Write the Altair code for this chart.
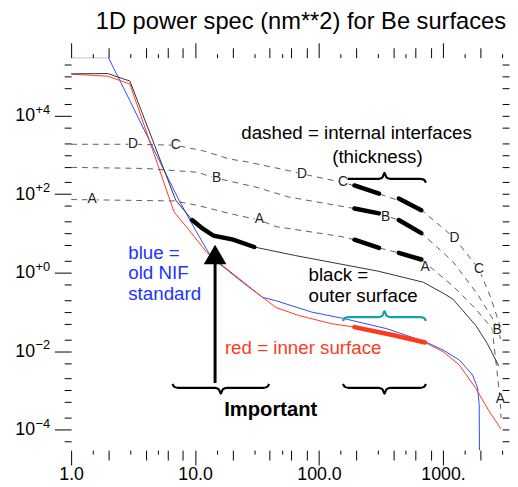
import math
import altair as alt
import pandas as pd

FONT = "Liberation Sans"
BLUE = "#3347ff"
RED = "#ff3a1c"
TEAL = "#12a3a3"
GREY = "#4a4a4a"

TITLE = "1D power spec (nm**2) for Be surfaces"

# ---------------- curves (x = spatial frequency, y = power) ----------------
blue_x = [1.0, 2.0, 3.0, 5.0, 7.42, 10.05, 13.6, 17.9, 24.3, 35.0, 44.8, 87.5, 161, 355, 716, 1000, 1350, 1730, 1900, 1960, 1975, 1980]
blue_y = [3.0e5, 3.0e5, 2.3e4, 855, 70, 12.3, 2.38, 1.21, 0.56, 0.235, 0.193, 0.0986, 0.067, 0.037, 0.0174, 0.0107, 0.006, 0.0025, 0.00116, 4.4e-4, 1.0e-5, 1.0e-6]

red_x = [1.0, 1.97, 2.98, 6.76, 8.9, 12.5, 16.9, 35.0, 44.8, 68.5, 126, 193, 401, 578, 716, 1000, 1350, 1830, 2350, 2940]
red_y = [1.14e5, 1.01e5, 6.4e4, 35.5, 12.3, 3.2, 1.47, 0.235, 0.13, 0.081, 0.050, 0.041, 0.0254, 0.021, 0.0166, 0.0097, 0.0045, 0.00116, 3.0e-4, 1.04e-4]

black_x = [1.0, 1.97, 2.98, 6.98, 9.47, 11.4, 14.1, 20.3, 30.0, 64.5, 296, 694, 1000, 1200, 1837, 2275, 2818]
black_y = [1.16e5, 1.18e5, 7.6e4, 70, 21.8, 13.6, 8.7, 6.9, 4.5, 2.72, 1.1, 0.57, 0.301, 0.213, 0.0454, 0.0158, 0.0042]

# dashed internal interfaces (C and D coincide)
dc_x = [1.0, 3.16, 6.98, 11.7, 19.0, 25.9, 56.8, 72.9, 156, 240, 537, 673, 1239, 1955, 2404, 2940]
dc_y = [1862, 1862, 1760, 1260, 782, 668, 397, 328, 198, 132, 55, 39, 7.6, 1.21, 0.252, 0.037]
b_x = [1.0, 4.0, 10.4, 14.9, 31.0, 56.8, 193, 305, 440, 673, 1200, 1896, 2818, 2940]
b_y = [480, 450, 360, 254, 151, 84.5, 43, 32.3, 21.9, 10.1, 1.92, 0.284, 0.0375, 0.0158]
a_x = [1.0, 6.78, 10.4, 19.0, 33.0, 44.8, 151, 193, 305, 440, 669, 1200, 1837, 2494, 2890, 2940]
a_y = [72.8, 67, 52, 32, 21.9, 14.9, 8.3, 6.9, 4.26, 3.19, 2.16, 0.46, 0.119, 0.0375, 6.1e-4, 2.0e-4]

# bold highlighted pieces
thick_name = ["dc1", "dc1", "dc2", "dc2", "b1", "b1", "b2", "b2", "a1", "a1", "a2", "a2"]
thick_x = [193, 305, 440, 669, 193, 305, 440, 669, 193, 305, 440, 669]
thick_y = [166, 103, 77, 39, 43, 32.3, 21.9, 10.1, 6.9, 4.26, 3.19, 2.16]
bthick_x = [9.47, 11.4, 14.1, 20.3, 30.0]
bthick_y = [21.8, 13.6, 8.7, 6.9, 4.5]
rthick_x = [193, 401, 716]
rthick_y = [0.041, 0.0254, 0.0166]

# curve letter labels
let_t = ["A", "A", "A", "A", "B", "B", "B", "C", "C", "C", "D", "D", "D"]
let_x = [1.476, 33, 716, 2900, 14.9, 344, 2734, 6.98, 156, 1955, 3.16, 72.9, 1239]
let_y = [72.7, 22.6, 1.42, 5.9e-4, 254, 25.3, 0.034, 1760, 201, 1.21, 1862, 328, 7.6]

# braces: (x1, x2, y, cusp up?, colour)
brace_x1 = [156, 156, 156, 6.57]
brace_x2 = [729, 729, 729, 39.6]
brace_y = [245, 0.0738, 1.16e-3, 1.16e-3]
brace_up = [True, True, False, False]
brace_col = ["black", TEAL, "black", "black"]

# arrow
arrow_x = [14.5]
arrow_y1 = [1.55e-3]
arrow_y2 = [1.92]
arrow_head_y = [2.89]

# axis ticks
x_major = [1, 10, 100, 1000]
x_major_lab = ["1.0", "10.0", "100.0", "1000."]
x_mid = [2, 4, 6, 8, 20, 40, 60, 80, 200, 400, 600, 800, 2000]
x_minor = [1.5, 3, 5, 15, 30, 50, 150, 300, 500, 1500, 3000]
y_major = [0.0001, 0.01, 1.0, 100.0, 10000.0]
y_sup = ["−4", "−2", "+0", "+2", "+4"]
y_vals = [float(f"{m}e{e}") for e in range(-5, 6) for m in (1, 2, 5)]
y_vals = [v for v in y_vals if 3e-5 <= v <= 3e5]
x_vals = sorted(x_major + x_mid + x_minor)

XS = alt.Scale(type="log", domain=[1, 3000])
YS = alt.Scale(type="log", domain=[3e-5, 3e5])

# pixel geometry of the plot (used only to place labels just outside it)
PX_X = 437 / math.log10(3000)
PX_Y = 398 / 10.0

x_lab_expr = "".join(f"datum.value == {v} ? '{t}' : " for v, t in zip(x_major, x_major_lab)) + "''"
y_lab_expr = f"indexof({y_major}, datum.value) >= 0 ? '10' : ''"
x_tick_size = {"condition": [{"test": f"indexof({x_major}, datum.value) >= 0", "value": 15},
                             {"test": f"indexof({x_mid}, datum.value) >= 0", "value": 10}], "value": 4}
y_tick_size = {"condition": {"test": f"indexof({y_major}, datum.value) >= 0", "value": 17}, "value": 7}

common = dict(domain=False, grid=False, title=None, tickColor="black", tickWidth=1,
              labelFont=FONT, labelColor="black", labelOverlap=False)
ax_bottom = alt.Axis(orient="bottom", values=x_vals, labelExpr=x_lab_expr, tickSize=x_tick_size,
                     labelFontSize=18, labelPadding=1, labelFlush=False, **common)
ax_left = alt.Axis(orient="left", values=y_vals, labelExpr=y_lab_expr, tickSize=y_tick_size,
                   labelFontSize=18, labelPadding=20, labelBaseline="middle", **common)
ax_top = alt.Axis(orient="top", values=x_vals, labels=False, tickSize=x_tick_size, **common)
ax_right = alt.Axis(orient="right", values=y_vals, labels=False, tickSize=7, **common)


def xy(chart, xaxis=None, yaxis=None, **extra):
    return chart.encode(x=alt.X("x:Q", scale=XS, axis=xaxis),
                        y=alt.Y("y:Q", scale=YS, axis=yaxis), **extra)


def frame(xs, ys, name="s"):
    return pd.DataFrame({"x": xs, "y": ys, "name": name})


def brace_frame(x1, x2, y, up, k):
    lx1, lx2, ly = math.log10(x1), math.log10(x2), math.log10(y)
    w = (lx2 - lx1) * PX_X
    m = w / 2
    s = 1 if up else -1
    shape = [(0, 4), (2, 1), (6, 0), (m - 6, 0), (m - 2, -1.5), (m, -6),
             (m + 2, -1.5), (m + 6, 0), (w - 6, 0), (w - 2, 1), (w, 4)]
    rows = []
    for i, (px, py) in enumerate(shape):
        rows.append({"x": 10 ** (lx1 + px / PX_X), "y": 10 ** (ly - s * py / PX_Y), "name": f"b{k}", "o": i})
    return pd.DataFrame(rows)


layers = []
# curves
layers.append(xy(alt.Chart(frame(blue_x, blue_y)).mark_line(color=BLUE, strokeWidth=1, clip=True), ax_bottom, ax_left))
layers.append(xy(alt.Chart(frame(red_x, red_y)).mark_line(color=RED, strokeWidth=1, clip=True), ax_top, ax_right))
dashed = pd.concat([frame(dc_x, dc_y, "DC"), frame(b_x, b_y, "B"), frame(a_x, a_y, "A")])
layers.append(xy(alt.Chart(dashed).mark_line(color=GREY, strokeWidth=0.9, strokeDash=[6, 5], clip=True),
                 detail="name:N"))
layers.append(xy(alt.Chart(frame(black_x, black_y)).mark_line(color="#333333", strokeWidth=1, clip=True)))
layers.append(xy(alt.Chart(pd.DataFrame({"x": thick_x, "y": thick_y, "name": thick_name}))
                 .mark_line(color="black", strokeWidth=4.5, strokeCap="round"), detail="name:N"))
layers.append(xy(alt.Chart(frame(bthick_x, bthick_y)).mark_line(color="black", strokeWidth=4.5, strokeCap="round")))
layers.append(xy(alt.Chart(frame(rthick_x, rthick_y)).mark_line(color=RED, strokeWidth=4.5, strokeCap="round")))

# braces
for k in range(len(brace_x1)):
    bf = brace_frame(brace_x1[k], brace_x2[k], brace_y[k], brace_up[k], k)
    layers.append(xy(alt.Chart(bf).mark_line(color=brace_col[k], strokeWidth=2.2, interpolate="monotone"),
                     order="o:Q"))

# arrow
layers.append(alt.Chart(pd.DataFrame({"x": arrow_x, "y": arrow_y1, "y2": arrow_y2}))
              .mark_rule(color="black", strokeWidth=3)
              .encode(x=alt.X("x:Q", scale=XS, axis=None), y=alt.Y("y:Q", scale=YS, axis=None), y2="y2:Q"))
layers.append(xy(alt.Chart(frame(arrow_x, arrow_head_y)).mark_point(shape="triangle-up", size=530, filled=True,
                                                                    color="black", opacity=1)))

# letters on dashed curves (with a small white gap behind them)
let_df = pd.DataFrame({"x": let_x, "y": let_y, "t": let_t})
layers.append(xy(alt.Chart(let_df).mark_square(color="white", size=90, opacity=1)))
layers.append(xy(alt.Chart(let_df).mark_text(font=FONT, fontSize=14, color="#222222", align="center",
                                             baseline="middle"), text="t:N"))

# superscripts of the y tick labels ("10" comes from the axis)
sup_df = pd.DataFrame({"x": [10 ** (-36 / PX_X)] * len(y_major),
                       "y": [v * 10 ** (6 / PX_Y) for v in y_major], "t": y_sup})
layers.append(xy(alt.Chart(sup_df).mark_text(font=FONT, fontSize=13, color="black", align="left",
                                             baseline="middle"), text="t:N"))


# annotations
def note(texts, xs, ys, color="black", align="left", size=19, weight="normal"):
    df = pd.DataFrame({"x": xs, "y": ys, "t": texts})
    return xy(alt.Chart(df).mark_text(font=FONT, fontSize=size, color=color, align=align,
                                      baseline="middle", fontWeight=weight), text="t:N")


layers.append(note(["dashed = internal interfaces"], [23.6], [3589]))
layers.append(note(["(thickness)"], [296], [858], align="center"))
layers.append(note(["blue =", "old NIF", "standard"], [2.89, 2.89, 2.89], [3.18, 1.0, 0.284], color="#2233ff"))
layers.append(note(["black =", "outer surface"], [82.2, 82.2], [0.855, 0.249]))
layers.append(note(["red = inner surface"], [17.4], [0.01225], color=RED))
layers.append(note(["Important"], [40.8], [3.06e-4], align="center", size=20.5, weight="bold"))
# chart title, centred above the plot where the reference has it
layers.append(note([TITLE], [10 ** ((305 - 72) / PX_X)], [3e5 * 10 ** (36 / PX_Y)], align="center", size=24))

chart = (
    alt.layer(*layers)
    .resolve_axis(x="independent", y="independent")
    .properties(
        width=437,
        height=398,
        autosize=alt.AutoSizeParams(type="none"),
        padding={"left": 64, "top": 47, "right": 8, "bottom": 32},
    )
    .configure_view(stroke=None)
)

chart.save("out.html", embed_options={"renderer": "svg", "actions": False})
